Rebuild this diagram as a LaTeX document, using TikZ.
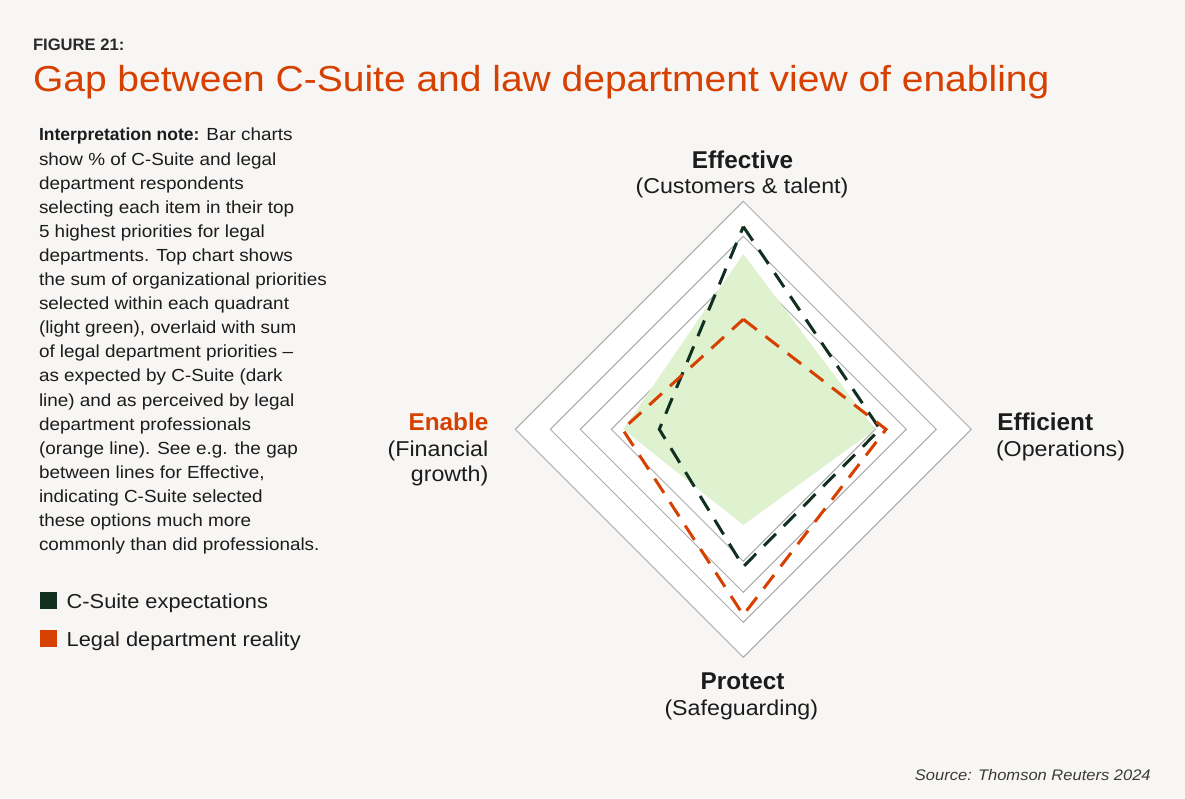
\documentclass[tikz,border=0pt]{standalone}
\usepackage{fontspec}
\setmainfont{Liberation Sans}[FakeStretch=1.08]
\newfontfamily\headfont{Liberation Sans}
\definecolor{bg}{HTML}{F7F6F4}
\definecolor{tro}{HTML}{D64000}
\definecolor{dkg}{HTML}{12301F}
\definecolor{lgr}{HTML}{DFF2CF}
\definecolor{ringgray}{HTML}{AAAAAA}
\definecolor{ink}{HTML}{1C1C1C}
\definecolor{inkb}{HTML}{3A3A3A}
\definecolor{inkc}{HTML}{2A2A2A}
\newcommand\fsz[2]{\fontsize{#1}{#2}\selectfont}
\tikzset{
  txt/.style={inner sep=0pt, outer sep=0pt, text=ink},
  axhead/.style={txt, font={\headfont\bfseries\fsz{24.3}{28}}},
  axsub/.style={txt, font={\fsz{21.5}{26}}},
  ringline/.style={draw=ringgray, line width=1pt},
  series/.style={line width=3pt, dash pattern=on 17pt off 11pt, line join=miter},
  legsq/.style={minimum size=17pt, inner sep=0pt, outer sep=0pt, anchor=north west},
}
\begin{document}
\begin{tikzpicture}[x=1pt,y=-1pt]
\fill[bg] (0,0) rectangle (1185,798);
\useasboundingbox (0,0) rectangle (1185,798);

% heading
\node[txt, anchor=base west, font={\headfont\bfseries\fsz{16.6}{20}}, text=inkc] (fig) at (33,50.7) {FIGURE 21:};
\node[txt, anchor=base west, font={\fsz{36.1}{40}}, text=tro] (title) at (33,91)
  {Gap between C-Suite and law department view of enabling};

% note
\node[txt, anchor=north west, align=left, font={\fsz{17.5}{24.1}}] (note) at (39,128.3)
  {{\headfont\bfseries Interpretation note:} Bar charts\\
   show \% of C-Suite and legal\\
   department respondents\\
   selecting each item in their top\\
   5 highest priorities for legal\\
   departments. Top chart shows\\
   the sum of organizational priorities\\
   selected within each quadrant\\
   (light green), overlaid with sum\\
   of legal department priorities --\\
   as expected by C-Suite (dark\\
   line) and as perceived by legal\\
   department professionals\\
   (orange line). See e.g. the gap\\
   between lines for Effective,\\
   indicating C-Suite selected\\
   these options much more\\
   commonly than did professionals.};

% legend
\node[legsq, fill=dkg] (sq1) at (40,592.3) {};
\node[txt, anchor=base west, font={\fsz{20.2}{24}}] (leg1) at (66.7,608) {C-Suite expectations};
\node[legsq, fill=tro] (sq2) at (40,630) {};
\node[txt, anchor=base west, font={\fsz{20.2}{24}}] (leg2) at (66.7,646) {Legal department reality};

% radar
\begin{scope}[shift={(743.3,429.3)}]
  \draw[ringline, fill=white] (0,-228) -- (228,0) -- (0,228) -- (-228,0) -- cycle;
  \foreach \r in {193,163,132}{
    \draw[ringline] (0,-\r) -- (\r,0) -- (0,\r) -- (-\r,0) -- cycle;
  }
  \fill[lgr] (0,-175.3) -- (131.7,0) -- (0,95.7) -- (-120,0) -- cycle;
  \draw[series, draw=dkg] (0,-202.7) -- (136.7,0) -- (0,137.3) -- (-84,0) -- cycle;
  \draw[series, draw=tro] (0,-110) -- (142.7,0) -- (0,185.7) -- (-120.7,0) -- cycle;
\end{scope}

% axis labels
\node[axhead, anchor=base] (effh) at (742.5,168.3) {Effective};
\node[axsub, anchor=base] (effs) at (742,193.3) {(Customers \& talent)};
\node[axhead, anchor=base] (proh) at (742.5,689.3) {Protect};
\node[axsub, anchor=base] (pros) at (741.3,715) {(Safeguarding)};
\node[axhead, anchor=base west] (effih) at (997.3,430) {Efficient};
\node[axsub, anchor=base west] (effis) at (996,456.7) {(Operations)};
\node[axhead, anchor=base east, text=tro] (enh) at (488.3,430) {Enable};
\node[axsub, anchor=base east] (ens1) at (488.3,456.7) {(Financial};
\node[axsub, anchor=base east] (ens2) at (488.3,481.7) {growth)};

% source
\node[txt, anchor=base east, font={\itshape\fsz{15.3}{18}}, text=inkb] (src) at (1150.7,780.7)
  {Source: Thomson Reuters 2024};
\end{tikzpicture}
\end{document}
